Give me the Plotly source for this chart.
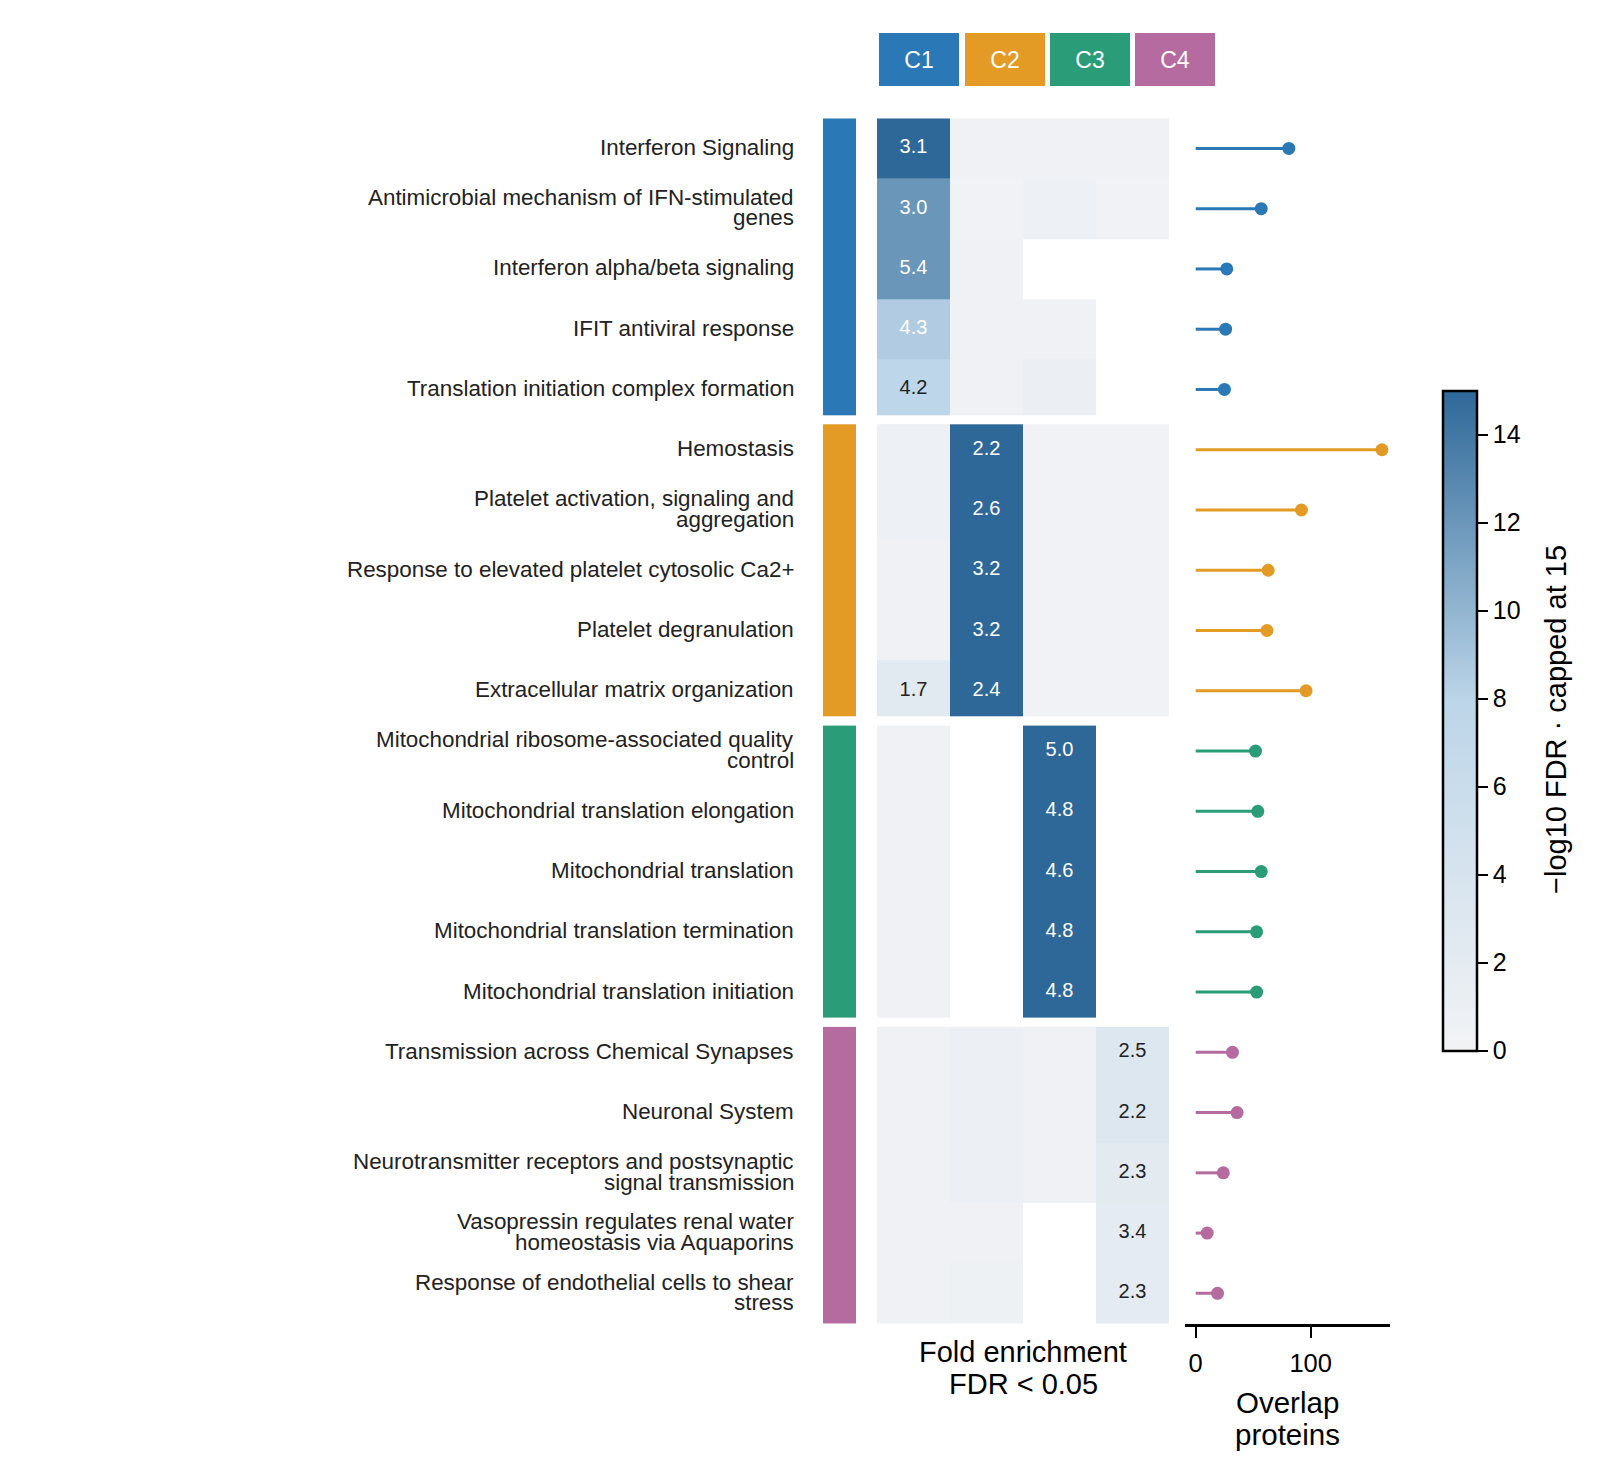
import plotly.graph_objects as go

W, H = 1600, 1477
OFF = 8  # page body margin of the html page
FONT = "Liberation Sans, Arial, Helvetica, sans-serif"
DARK = "#222222"

# ---------------- data ----------------
clusters = ["C1", "C2", "C3", "C4"]
cluster_colors = ["#2a78b5", "#e39b25", "#2a9d78", "#b56ba0"]

pathways = [
    "Interferon Signaling",
    "Antimicrobial mechanism of IFN-stimulated\ngenes",
    "Interferon alpha/beta signaling",
    "IFIT antiviral response",
    "Translation initiation complex formation",
    "Hemostasis",
    "Platelet activation, signaling and\naggregation",
    "Response to elevated platelet cytosolic Ca2+",
    "Platelet degranulation",
    "Extracellular matrix organization",
    "Mitochondrial ribosome-associated quality\ncontrol",
    "Mitochondrial translation elongation",
    "Mitochondrial translation",
    "Mitochondrial translation termination",
    "Mitochondrial translation initiation",
    "Transmission across Chemical Synapses",
    "Neuronal System",
    "Neurotransmitter receptors and postsynaptic\nsignal transmission",
    "Vasopressin regulates renal water\nhomeostasis via Aquaporins",
    "Response of endothelial cells to shear\nstress",
]
pathway_cluster = [0] * 5 + [1] * 5 + [2] * 5 + [3] * 5

# -log10 FDR (capped at 15), columns C1..C4 ; None = not tested
neglog10_fdr = [
    [15.0, 0.4, 0.5, 0.4],
    [12.0, 0.3, 0.7, 0.3],
    [12.0, 0.4, None, None],
    [8.5, 0.4, 0.5, None],
    [7.6, 0.4, 1.0, None],
    [0.7, 15.0, 0.3, 0.3],
    [0.8, 15.0, 0.3, 0.3],
    [0.4, 15.0, 0.3, 0.3],
    [0.4, 15.0, 0.3, 0.3],
    [2.4, 15.0, 0.3, 0.3],
    [0.4, None, 15.0, None],
    [0.4, None, 15.0, None],
    [0.4, None, 15.0, None],
    [0.4, None, 15.0, None],
    [0.4, None, 15.0, None],
    [0.4, 0.9, 0.5, 3.3],
    [0.4, 0.9, 0.5, 3.2],
    [0.4, 0.9, 0.5, 2.2],
    [0.4, 0.5, None, 2.0],
    [0.5, 0.6, None, 2.0],
]

# fold enrichment shown where FDR < 0.05
fold_enrichment = [
    [3.1, None, None, None],
    [3.0, None, None, None],
    [5.4, None, None, None],
    [4.3, None, None, None],
    [4.2, None, None, None],
    [None, 2.2, None, None],
    [None, 2.6, None, None],
    [None, 3.2, None, None],
    [None, 3.2, None, None],
    [1.7, 2.4, None, None],
    [None, None, 5.0, None],
    [None, None, 4.8, None],
    [None, None, 4.6, None],
    [None, None, 4.8, None],
    [None, None, 4.8, None],
    [None, None, None, 2.5],
    [None, None, None, 2.2],
    [None, None, None, 2.3],
    [None, None, None, 3.4],
    [None, None, None, 2.3],
]

overlap_proteins = [81, 57, 27, 26, 25, 162, 92, 63, 62, 96,
                    52, 54, 57, 53, 53, 32, 36, 24, 10, 19]

cbar_ticks = [0, 2, 4, 6, 8, 10, 12, 14]
overlap_ticks = [0, 100]

# ---------------- layout geometry ----------------
INSET = 0.078          # half of the white gap between cluster blocks (row units)
ypos = list(range(len(pathways)))
y_range = [len(pathways) - 0.5, -0.5]
n_groups = len(clusters)

def px_x(p):
    return (p - OFF) / W

def px_y(p):
    return 1 - (p - OFF) / H

y_dom = [px_y(1323.5), px_y(118.3)]
strip_dom = [px_x(823), px_x(856)]
heat_dom = [px_x(877), px_x(1169)]
lol_dom = [px_x(1185), px_x(1390)]

colorscale = [[0.0, "#f2f3f5"], [0.53, "#bcd5e8"], [1.0, "#2e6898"]]

fig = go.Figure()

def group_rows(g):
    return [i for i in range(len(pathways)) if pathway_cluster[i] == g]

def group_edges(g, idx):
    e = [ypos[idx[0]] - 0.5] + [ypos[i] + 0.5 for i in idx]
    if g > 0:
        e[0] += INSET
    if g < n_groups - 1:
        e[-1] -= INSET
    return e

# cluster strip + heatmap, one block per cluster (gives gaps between blocks)
for g in range(n_groups):
    idx = group_rows(g)
    edges = group_edges(g, idx)
    fig.add_trace(go.Heatmap(
        x=["strip"], y=edges, z=[[1] for _ in idx],
        colorscale=[[0, cluster_colors[g]], [1, cluster_colors[g]]],
        showscale=False, xaxis="x", yaxis="y", hoverinfo="skip"))
    fig.add_trace(go.Heatmap(
        x=clusters, y=edges, z=[neglog10_fdr[i] for i in idx],
        coloraxis="coloraxis", xaxis="x2", yaxis="y", hoverinfo="skip"))

# fold enrichment labels
tx, ty, tt, tc = [], [], [], []
for i in range(len(pathways)):
    for j, c in enumerate(clusters):
        fe = fold_enrichment[i][j]
        if fe is not None:
            tx.append(c)
            ty.append(ypos[i])
            tt.append(f"{fe:.1f}")
            v = neglog10_fdr[i][j] or 0
            tc.append("white" if v > 8 else DARK)
fig.add_trace(go.Scatter(
    x=tx, y=ty, text=tt, mode="text", xaxis="x2", yaxis="y",
    textfont=dict(family=FONT, size=20, color=tc), hoverinfo="skip",
    showlegend=False))

# lollipops
for g in range(n_groups):
    idx = group_rows(g)
    lx, ly = [], []
    for i in idx:
        lx += [0, overlap_proteins[i], None]
        ly += [ypos[i], ypos[i], None]
    fig.add_trace(go.Scatter(
        x=lx, y=ly, mode="lines", line=dict(color=cluster_colors[g], width=3),
        xaxis="x3", yaxis="y", hoverinfo="skip", showlegend=False))
    fig.add_trace(go.Scatter(
        x=[overlap_proteins[i] for i in idx], y=[ypos[i] for i in idx],
        mode="markers", marker=dict(color=cluster_colors[g], size=13),
        xaxis="x3", yaxis="y", hoverinfo="skip", showlegend=False))

annotations = []
# row labels (tight two-line spacing)
for i, lab in enumerate(pathways):
    lines = lab.split("\n")
    n = len(lines)
    for k, ln in enumerate(lines):
        shift = (n - 1) / 2 * 20.4 - k * 20.4
        annotations.append(dict(
            x=px_x(796), xref="paper", y=ypos[i], yref="y", yshift=shift + 1,
            text=ln, showarrow=False, xanchor="right", yanchor="middle",
            font=dict(family=FONT, size=22.4, color=DARK)))

# cluster header boxes
for g, c in enumerate(clusters):
    annotations.append(dict(
        x=px_x(919.3 + g * 85.3), xref="paper", y=px_y(59.4), yref="paper",
        text=c, showarrow=False, xanchor="center", yanchor="middle",
        width=80, height=53, bgcolor=cluster_colors[g], borderpad=0, borderwidth=0,
        font=dict(family=FONT, size=23, color="white")))

# axis titles
for txt, yc in [("Fold enrichment", 1352), ("FDR < 0.05", 1383.5)]:
    annotations.append(dict(
        x=px_x(1023), xref="paper", y=px_y(yc), yref="paper", text=txt,
        showarrow=False, xanchor="center", yanchor="middle",
        font=dict(family=FONT, size=29, color="black")))
for txt, yc in [("Overlap", 1402), ("proteins", 1434.5)]:
    annotations.append(dict(
        x=px_x(1287.5), xref="paper", y=px_y(yc), yref="paper", text=txt,
        showarrow=False, xanchor="center", yanchor="middle",
        font=dict(family=FONT, size=29.5, color="black")))

# colorbar title
annotations.append(dict(
    x=px_x(1556), xref="paper", y=px_y(720), yref="paper",
    text="\u2212log10 FDR \u00b7 capped at 15", textangle=-90, showarrow=False,
    xanchor="center", yanchor="middle",
    font=dict(family=FONT, size=29, color="black")))

fig.update_layout(
    width=W, height=H, margin=dict(l=0, r=0, t=0, b=0),
    paper_bgcolor="white", plot_bgcolor="rgba(0,0,0,0)",
    showlegend=False, font=dict(family=FONT, color=DARK),
    xaxis=dict(domain=strip_dom, showticklabels=False, ticks="", showgrid=False,
               zeroline=False, showline=False, anchor="y", fixedrange=True),
    xaxis2=dict(domain=heat_dom, showticklabels=False, ticks="", showgrid=False,
                zeroline=False, showline=False, anchor="y", type="category",
                categoryorder="array", categoryarray=clusters, range=[-0.5, 3.5]),
    xaxis3=dict(domain=lol_dom, range=[-9.3, 169], tickvals=overlap_ticks,
                ticks="outside", ticklen=12, tickwidth=2, tickcolor="black",
                showline=True, linewidth=2.5, linecolor="black", showgrid=False,
                zeroline=False, anchor="y", ticklabelstandoff=3,
                tickfont=dict(family=FONT, size=25.5, color="black")),
    yaxis=dict(domain=y_dom, range=y_range, showticklabels=False, ticks="",
               showgrid=False, zeroline=False, showline=False, anchor="x"),
    coloraxis=dict(
        cmin=0, cmax=15, colorscale=colorscale,
        colorbar=dict(
            x=px_x(1443), xanchor="left", xpad=0, y=px_y(720.5), yanchor="middle",
            ypad=0, lenmode="pixels", len=660, thicknessmode="pixels", thickness=34,
            outlinewidth=2.5, outlinecolor="black", tickvals=cbar_ticks,
            ticks="outside", ticklen=10, tickwidth=2, tickcolor="black",
            tickfont=dict(family=FONT, size=25, color="black"))),
    annotations=annotations,
)

fig.write_html("out.html")
